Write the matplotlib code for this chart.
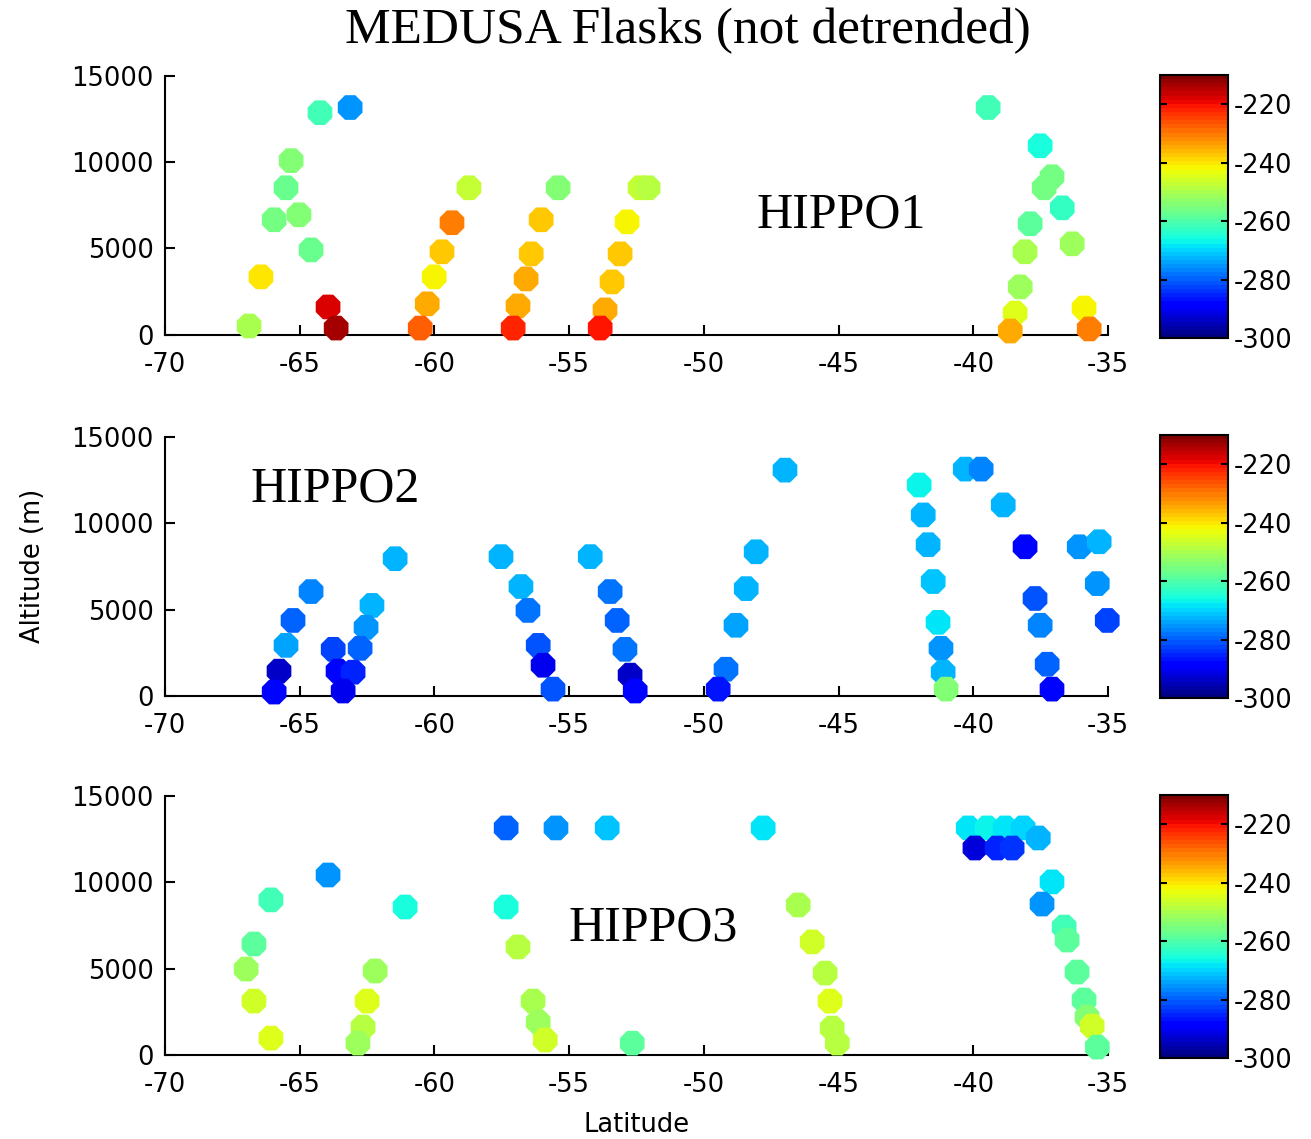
"""
MEDUSA flask samples by HIPPO campaign: latitude vs altitude, coloured by value
"""
import numpy as np
import matplotlib
matplotlib.use("Agg")
import matplotlib.pyplot as plt

plt.rcParams["axes.unicode_minus"] = False
plt.rcParams["font.family"] = ["DejaVu Sans"]

# HIPPO1
h1_lat = [-64.25, -63.13, -65.32, -65.51, -65.95, -65.03, -64.58, -66.44, -66.88, -63.95, -63.65,
          -58.72, -59.35, -59.72, -60.01, -60.27, -60.53,
          -55.41, -56.04, -56.41, -56.60, -56.90, -57.08,
          -52.37, -52.07, -52.85, -53.11, -53.41, -53.67, -53.85,
          -39.45, -37.52, -37.08, -37.37, -36.70, -37.89, -38.08, -36.33, -38.26, -38.45, -38.63,
          -35.89, -35.70]
h1_alt = [12850, 13150, 10080, 8510, 6660, 6950, 4920, 3360, 520, 1620, 400,
          8510, 6490, 4810, 3360, 1800, 400,
          8510, 6660, 4690, 3240, 1680, 400,
          8510, 8510, 6540, 4690, 3070, 1450, 400,
          13150, 10940, 9150, 8510, 7350, 6430, 4810, 5270, 2780, 1270, 230,
          1560, 350]
h1_val = [-262, -275, -254, -257, -256, -254, -257, -240, -250, -218, -214,
          -247, -231, -238, -242, -235, -227,
          -255, -238, -237, -235, -234, -222,
          -247, -248, -242, -238, -238, -234, -221,
          -262, -266, -256, -256, -263, -258, -250, -251, -251, -244, -235,
          -242, -231]

# HIPPO2
h2_lat = [-61.46, -64.58, -65.25, -65.51, -65.77, -65.95, -62.32, -62.54, -62.76, -63.76, -63.58,
          -63.02, -63.39,
          -57.53, -56.79, -56.53, -56.15, -55.97, -55.60,
          -54.22, -53.48, -53.22, -52.93, -52.74, -52.55,
          -46.99, -48.06, -48.43, -48.81, -49.18, -49.47,
          -42.01, -41.86, -41.68, -41.49, -41.31, -41.20, -41.12, -41.01,
          -40.30, -39.71, -38.89, -38.08, -37.71, -37.52, -37.26, -37.08,
          -36.07, -35.33, -35.40, -35.03]
h2_alt = [7940, 6040, 4370, 2930, 1440, 230, 5240, 3970, 2760, 2700, 1440,
          1380, 290,
          8060, 6330, 4950, 2930, 1780, 400,
          8060, 6040, 4370, 2700, 1210, 290,
          13060, 8340, 6210, 4090, 1550, 400,
          12200, 10470, 8750, 6620, 4260, 2760, 1380, 400,
          13120, 13120, 11050, 8630, 5640, 4090, 1840, 400,
          8630, 8920, 6500, 4370]
h2_val = [-272, -277, -280, -274, -293, -288, -272, -276, -279, -283, -288,
          -285, -291,
          -273, -273, -278, -281, -291, -281,
          -272, -278, -280, -278, -293, -288,
          -272, -273, -272, -274, -278, -286,
          -267, -273, -272, -271, -269, -276, -273, -255,
          -273, -277, -273, -288, -281, -277, -279, -288,
          -276, -272, -276, -283]

# HIPPO3
h3_lat = [-57.34, -55.49, -53.59, -63.95, -66.07, -66.70, -66.99, -66.70, -66.07,
          -61.09, -62.20, -62.50, -62.65, -62.84,
          -57.34, -56.90, -56.34, -56.15, -55.89, -52.66,
          -47.80, -46.50, -45.98, -45.50, -45.32, -45.24, -45.05,
          -40.19, -39.49, -38.82, -38.15, -37.59, -39.94, -39.12, -38.56,
          -37.08, -37.45, -36.63, -36.52, -36.15, -35.89, -35.78, -35.59, -35.40]
h3_alt = [13130, 13130, 13130, 10410, 8970, 6420, 4970, 3120, 980,
          8560, 4860, 3120, 1620, 690,
          8560, 6250, 3120, 1910, 870, 690,
          13130, 8680, 6540, 4740, 3120, 1560, 690,
          13130, 13130, 13130, 13130, 12550, 11970, 11970, 11970,
          10010, 8730, 7400, 6650, 4800, 3180, 2200, 1680, 460]
h3_val = [-280, -276, -271, -275, -261, -259, -251, -246, -245,
          -266, -251, -244, -249, -251,
          -265, -249, -250, -251, -246, -259,
          -268, -250, -246, -249, -244, -248, -249,
          -269, -267, -268, -270, -273, -292, -285, -284,
          -268, -276, -262, -259, -259, -258, -255, -246, -259]

campaigns = [
    ("HIPPO1", h1_lat, h1_alt, h1_val, (-44.9, 6950)),
    ("HIPPO2", h2_lat, h2_alt, h2_val, (-63.7, 11950)),
    ("HIPPO3", h3_lat, h3_alt, h3_val, (-51.9, 7350)),
]

xticks = [-70, -65, -60, -55, -50, -45, -40, -35]
yticks = [0, 5000, 10000, 15000]
cticks = [-300, -280, -260, -240, -220]

fig = plt.figure(figsize=(13.11, 11.39), dpi=100)
cmap = plt.get_cmap("jet", 64)

ax_bottoms = [0.7059, 0.3889, 0.0737]
cb_bottoms = [0.7032, 0.3872, 0.0711]

for i, (name, lat, alt, val, txt) in enumerate(campaigns):
    ax = fig.add_axes([0.1259, ax_bottoms[i], 0.7193, 0.2278])
    sc = ax.scatter(lat, alt, c=val, cmap=cmap, vmin=-300, vmax=-210,
                    s=370, marker="8", edgecolors="none", clip_on=False, zorder=3)
    ax.set_xlim(-70, -35)
    ax.set_ylim(0, 15000)
    ax.set_xticks(xticks)
    ax.set_yticks(yticks)
    for side in ("top", "right"):
        ax.spines[side].set_visible(False)
    for side in ("left", "bottom"):
        ax.spines[side].set_linewidth(1.5)
    ax.tick_params(direction="in", length=7, width=1.5, labelsize=18.5)
    ax.tick_params(axis="x", pad=12)
    ax.tick_params(axis="y", pad=8)
    ax.text(txt[0], txt[1], name, ha="center", va="center", fontsize=36,
            family=["Liberation Serif", "DejaVu Serif"], zorder=4)

    cax = fig.add_axes([0.8848, cb_bottoms[i], 0.0519, 0.231])
    cb = fig.colorbar(sc, cax=cax)
    cb.set_ticks(cticks)
    cb.outline.set_linewidth(1.5)
    cax.tick_params(direction="in", length=5, width=1.5, left=True, right=True,
                    labelsize=18.5, pad=4)

    if i == 1:
        ax.set_ylabel("Altitude (m)", fontsize=18.5, labelpad=18)
    if i == 2:
        ax.set_xlabel("Latitude", fontsize=18.5, labelpad=10)

fig.text(0.525, 0.973, "MEDUSA Flasks (not detrended)", ha="center", va="center",
         fontsize=37, family=["Liberation Serif", "DejaVu Serif"])

fig.savefig("out.png", dpi=100)
